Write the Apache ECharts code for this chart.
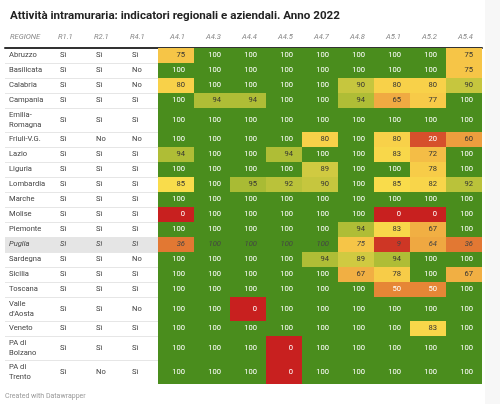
<!DOCTYPE html>
<html><head><meta charset="utf-8">
<script src="https://cdn.jsdelivr.net/npm/echarts@6/dist/echarts.min.js"></script>
<style>html,body{margin:0;padding:0;background:#fff}#c{width:500px;height:404px}</style>
</head><body><div id="c"></div>
<script>
const titleText = "Attività intramuraria: indicatori regionali e aziendali. Anno 2022";
const footerText = "Created with Datawrapper";
const firstHeader = "REGIONE";
const regions = ["Abruzzo","Basilicata","Calabria","Campania","Emilia-\nRomagna","Friuli-V.G.","Lazio","Liguria","Lombardia","Marche","Molise","Piemonte","Puglia","Sardegna","Sicilia","Toscana","Valle\nd'Aosta","Veneto","PA di\nBolzano","PA di\nTrento"];
const highlighted = "Puglia";
const textColumns = ["R1.1","R2.1","R4.1"];
const R1_1 = ["Sì","Sì","Sì","Sì","Sì","Sì","Sì","Sì","Sì","Sì","Sì","Sì","Sì","Sì","Sì","Sì","Sì","Sì","Sì","Sì"];
const R2_1 = ["Sì","Sì","Sì","Sì","Sì","No","Sì","Sì","Sì","Sì","Sì","Sì","Sì","Sì","Sì","Sì","Sì","Sì","Sì","No"];
const R4_1 = ["Sì","No","No","Sì","Sì","No","Sì","Sì","Sì","Sì","Sì","Sì","Sì","No","Sì","Sì","No","Sì","Sì","Sì"];
const valueColumns = ["A4.1","A4.3","A4.4","A4.5","A4.7","A4.8","A5.1","A5.2","A5.4"];
const A4_1 = [75,100,80,100,100,100,94,100,85,100,0,100,36,100,100,100,100,100,100,100];
const A4_3 = [100,100,100,94,100,100,100,100,100,100,100,100,100,100,100,100,100,100,100,100];
const A4_4 = [100,100,100,94,100,100,100,100,95,100,100,100,100,100,100,100,0,100,100,100];
const A4_5 = [100,100,100,100,100,100,94,100,92,100,100,100,100,100,100,100,100,100,0,0];
const A4_7 = [100,100,100,100,100,80,100,89,90,100,100,100,100,94,100,100,100,100,100,100];
const A4_8 = [100,100,90,94,100,100,100,100,100,100,100,94,75,89,67,100,100,100,100,100];
const A5_1 = [100,100,80,65,100,80,83,100,85,100,0,83,9,94,78,50,100,100,100,100];
const A5_2 = [100,100,80,77,100,20,72,78,82,100,0,67,64,100,100,50,100,83,100,100];
const A5_4 = [75,75,90,100,100,60,100,100,92,100,100,100,36,100,67,100,100,100,100,100];

const textSeries = [R1_1, R2_1, R4_1];
const valueSeries = [A4_1, A4_3, A4_4, A4_5, A4_7, A4_8, A5_1, A5_2, A5_4];

// layout helpers (units on the value axes)
const rowUnits = regions.map(r => r.indexOf("\n") >= 0 ? 1.6 : 1);
const rowStart = []; let acc = 0;
rowUnits.forEach(u => { rowStart.push(acc); acc += u; });
const totalRows = acc;
const firstColW = 1.25;
const nCols = 1 + textColumns.length + valueColumns.length;
const totalCols = firstColW + nCols - 1;
const colStart = c => c === 0 ? 0 : firstColW + c - 1;
const colEnd = c => c === 0 ? firstColW : firstColW + c;
const hlIndex = regions.indexOf(highlighted);
const FONT = "Roboto, 'Noto Sans', sans-serif";
const FS = '7.6px ';

const stops = [[0,'#c8201f'],[20,'#d6502c'],[36,'#e27833'],[50,'#e68636'],[65,'#f0aa42'],[75,'#f6c547'],[85,'#f9dc4b'],[90,'#c6c63e'],[95,'#a9bb34'],[99.9,'#a0b632'],[100,'#4a8d1d']];
function hex(h){return [parseInt(h.substr(1,2),16),parseInt(h.substr(3,2),16),parseInt(h.substr(5,2),16)];}
function colorFor(v){
  for (let i=1;i<stops.length;i++){
    if (v <= stops[i][0]){
      const a=stops[i-1], b=stops[i]; const t=(v-a[0])/(b[0]-a[0]);
      const ca=hex(a[1]), cb=hex(b[1]);
      const m=ca.map((x,k)=>Math.round(x+(cb[k]-x)*t));
      return 'rgb('+m.join(',')+')';
    }
  }
  return stops[stops.length-1][1];
}
function textColorFor(v){
  const c = colorFor(v).match(/\d+/g).map(Number);
  const l = (0.299*c[0]+0.587*c[1]+0.114*c[2])/255;
  return l < 0.63 ? '#ffffff' : '#333333';
}

// data
const cellData = [];
valueSeries.forEach((arr, j) => arr.forEach((v, i) => cellData.push([1 + textColumns.length + j, i, v])));
const textData = []; const textLabels = [];
regions.forEach((r, i) => { textData.push([0, i]); textLabels.push(r); });
textSeries.forEach((arr, j) => arr.forEach((s, i) => { textData.push([1 + j, i]); textLabels.push(s); }));
const headers = [firstHeader, ...textColumns, ...valueColumns];
const headerData = headers.map((h, c) => [c, -0.7]);
const sepData = regions.map((r, i) => [i]);

const chart = echarts.init(document.getElementById('c'), null, {renderer: 'canvas'});
chart.setOption({
  animation: false,
  backgroundColor: '#ffffff',
  title: {text: titleText, left: 5, top: 5, textStyle: {fontFamily: FONT, fontWeight: 'bold', fontSize: 11.6, color: '#222'}},
  graphic: [
    {type: 'rect', right: 0, top: 0, shape: {width: 15, height: 404}, style: {fill: '#f7f7f7'}, z: -1},
    {type: 'text', left: 5, bottom: 4, style: {text: footerText, fill: '#999', font: '7px ' + FONT}}
  ],
  grid: {left: 5, right: 18, top: 48, bottom: 20},
  xAxis: {type: 'value', min: 0, max: totalCols, position: 'top', offset: 1,
    axisLine: {show: true, lineStyle: {color: '#333', width: 2}}, axisTick: {show: false}, axisLabel: {show: false}, splitLine: {show: false}},
  yAxis: {type: 'value', min: 0, max: totalRows, inverse: true, show: false},
  series: [
    {type: 'custom', z: 1, data: sepData, clip: false,
      renderItem(params, api){
        const i = api.value(0);
        const y = rowStart[i] + rowUnits[i];
        const p0 = api.coord([0, y]), p1 = api.coord([totalCols, y]);
        const children = [];
        if (i === hlIndex){
          const q0 = api.coord([0, rowStart[i]]), q1 = api.coord([colEnd(textColumns.length), y]);
          children.push({type: 'rect', shape: {x: q0[0], y: q0[1], width: q1[0]-q0[0], height: q1[1]-q0[1]}, style: {fill: '#e5e5e5'}});
        }
        if (i < regions.length - 1)
          children.push({type: 'line', shape: {x1: p0[0], y1: Math.round(p0[1])+0.5, x2: p1[0], y2: Math.round(p0[1])+0.5}, style: {stroke: '#e6e6e6', lineWidth: 1}});
        return {type: 'group', children};
      }},
    {type: 'custom', z: 3, data: cellData, clip: false,
      renderItem(params, api){
        const c = api.value(0), r = api.value(1), v = api.value(2);
        const p0 = api.coord([colStart(c), rowStart[r]]);
        const p1 = api.coord([colEnd(c), rowStart[r] + rowUnits[r]]);
        const x0 = Math.round(p0[0]), x1 = Math.round(p1[0]), y0 = Math.round(p0[1]), y1 = Math.round(p1[1]);
        const hl = r === hlIndex;
        return {type: 'group', children: [
          {type: 'rect', shape: {x: x0, y: y0, width: x1-x0, height: y1-y0}, style: {fill: colorFor(v)}},
          {type: 'text', x: x1 - 9, y: (y0+y1)/2, style: {text: String(v), align: 'right', verticalAlign: 'middle',
            fill: hl ? '#444' : textColorFor(v), font: (hl ? 'italic ' : '') + FS + FONT}}
        ]};
      }},
    {type: 'custom', z: 4, data: textData, clip: false,
      renderItem(params, api){
        const c = api.value(0), r = api.value(1);
        const p0 = api.coord([colStart(c), rowStart[r] + rowUnits[r]/2]);
        const hl = r === hlIndex;
        return {type: 'text', x: p0[0] + (c === 0 ? 4 : 10), y: p0[1], style: {text: textLabels[params.dataIndex], align: 'left', verticalAlign: 'middle',
          fill: '#444', font: (hl ? 'italic ' : '') + FS + FONT, lineHeight: 10.5}};
      }},
    {type: 'custom', z: 4, data: headerData, clip: false,
      renderItem(params, api){
        const c = api.value(0), y = api.value(1);
        const isVal = c > textColumns.length;
        const p = api.coord([isVal ? colEnd(c) : colStart(c), y]);
        return {type: 'text', x: isVal ? p[0] - 9 : p[0] + (c === 0 ? 5 : 8), y: p[1], style: {text: headers[params.dataIndex], align: isVal ? 'right' : 'left', verticalAlign: 'middle',
          fill: '#888', font: 'italic ' + FS + FONT}};
      }}
  ]
});
</script></body></html>
